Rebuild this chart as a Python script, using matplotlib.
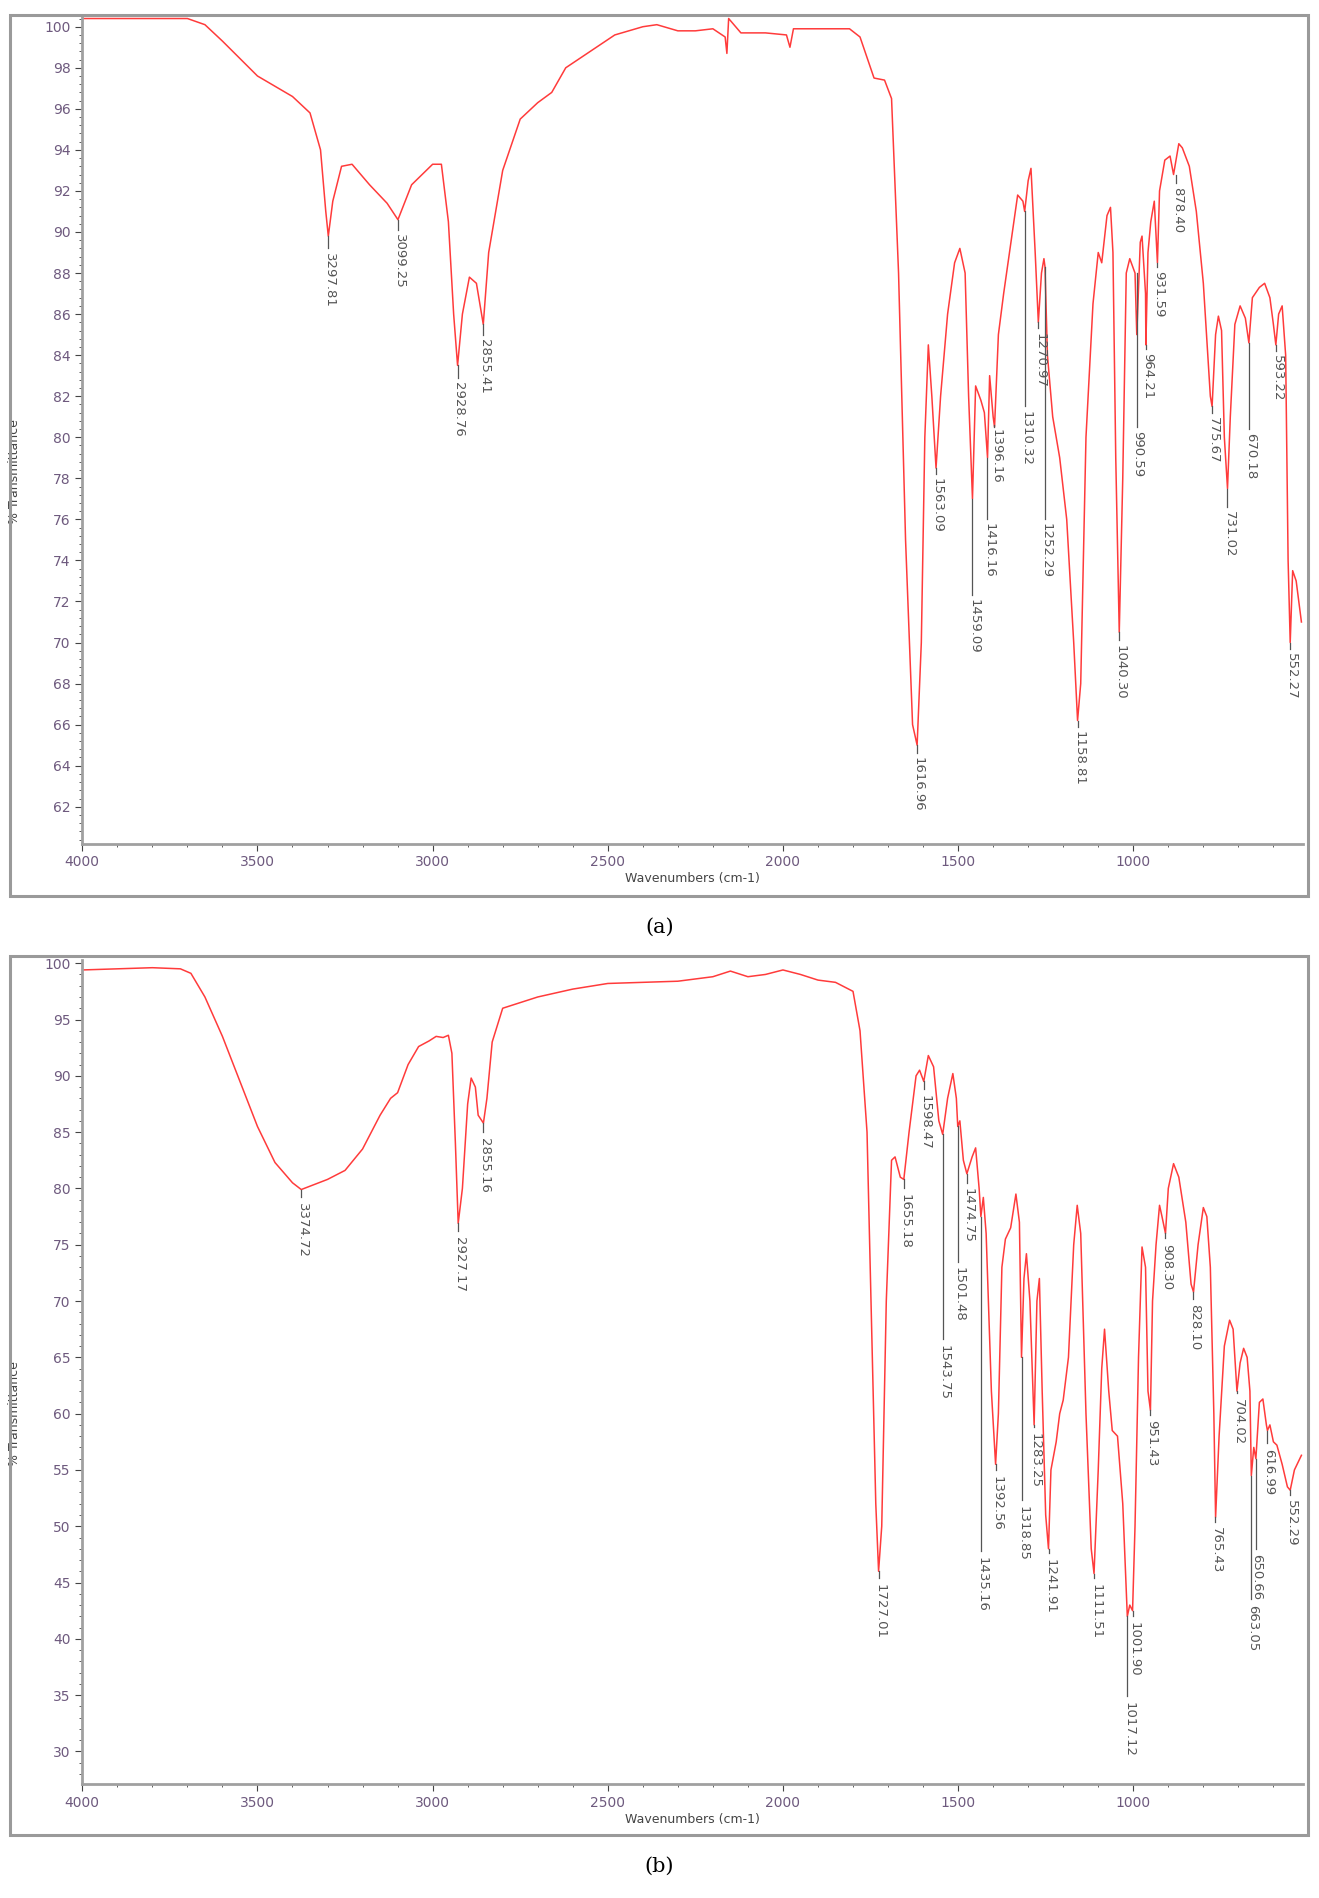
import matplotlib
matplotlib.use("Agg")
import matplotlib.pyplot as plt
from matplotlib.patches import Rectangle
from matplotlib.ticker import MultipleLocator

# ---- Spectrum (a)
wn_a = [4000,3700,3650,3600,3500,3400,3350,3320,3305,3297.8,3285,3260,3230,3180,3130,3099,3060,3000,2975,2955,2940,2928.8,2915,2895,2875,2855.4,2840,2800,2750,2700,2660,2620,2550,2480,2400,2360,2300,2250,2200,2165,2160,2155,2120,2050,1990,1980,1970,1900,1850,1810,1780,1740,1710,1690,1670,1650,1630,1617,1605,1595,1585,1575,1563,1550,1530,1510,1495,1480,1470,1459,1450,1435,1425,1416,1410,1400,1396,1385,1370,1345,1330,1315,1310,1300,1292,1280,1271,1262,1255,1252,1245,1230,1210,1190,1170,1159,1150,1135,1115,1100,1090,1075,1065,1058,1050,1040,1030,1020,1010,995,990,980,975,965,964,958,950,940,931,925,910,895,885,878,870,860,840,820,800,780,775,765,757,748,740,731,723,710,695,680,670,660,640,625,610,600,593,585,575,565,558,552,545,535,520]
tr_a = [100.4,100.4,100.1,99.3,97.6,96.6,95.8,94,91,89.8,91.5,93.2,93.3,92.3,91.4,90.6,92.3,93.3,93.3,90.5,86,83.5,86,87.8,87.5,85.5,89,93,95.5,96.3,96.8,98,98.8,99.6,100,100.1,99.8,99.8,99.9,99.5,98.7,100.4,99.7,99.7,99.6,99,99.9,99.9,99.9,99.9,99.5,97.5,97.4,96.5,88,75,66,65,70,80,84.5,82,78.5,82,86,88.5,89.2,88,82,77,82.5,81.8,81.2,79,83,81,80.5,85,87,90,91.8,91.5,91,92.5,93.1,89,85.6,88,88.7,88.3,84,81,79,76,70,66.2,68,80,86.5,89,88.5,90.8,91.2,89,79,70.5,78,88,88.7,88,85,89.5,89.8,87,84.5,89,90.5,91.5,88.5,92,93.5,93.7,92.8,93.5,94.3,94.1,93.2,91,87.5,82,81.5,85,85.9,85.2,80,77.5,81,85.5,86.4,85.8,84.6,86.8,87.3,87.5,86.8,85.5,84.5,86,86.4,84,74,70,73.5,73,71]
pk_a = [3297.81,3099.25,2928.76,2855.41,1616.96,1563.09,1459.09,1416.16,1396.16,1310.32,1270.97,1252.29,1158.81,1040.30,990.59,964.21,931.59,878.40,775.67,731.02,670.18,593.22,552.27]
pk_a_top = [89.8,90.6,83.5,85.5,65.0,78.5,77.0,79.0,80.5,91.0,85.6,88.3,66.2,70.5,88.0,84.5,88.5,92.8,81.5,77.5,84.6,84.5,70.0]
pk_a_end = [89.2,90.1,82.9,85.0,64.6,78.2,72.3,76.0,80.6,81.5,85.3,76.0,65.9,70.1,80.5,84.3,88.3,92.4,81.2,76.6,80.4,84.2,69.7]

# ---- Spectrum (b)
wn_b = [4000,3900,3800,3720,3690,3650,3600,3550,3500,3450,3400,3375,3350,3300,3250,3200,3150,3120,3100,3070,3040,3010,2990,2970,2955,2945,2935,2927,2915,2900,2890,2878,2870,2855,2845,2830,2800,2700,2600,2500,2400,2300,2200,2150,2100,2050,2000,1950,1900,1850,1800,1780,1760,1745,1735,1727,1718,1705,1690,1680,1665,1655,1640,1620,1610,1598,1585,1570,1555,1544,1530,1515,1505,1501,1495,1485,1475,1460,1450,1440,1435,1428,1420,1405,1393,1385,1375,1365,1350,1335,1325,1319,1312,1305,1295,1283,1275,1268,1260,1250,1242,1235,1220,1210,1200,1185,1170,1160,1150,1135,1120,1112,1100,1090,1082,1070,1060,1045,1030,1017,1010,1002,995,985,975,965,958,951,945,935,925,918,908,900,885,870,850,835,828,815,800,790,780,770,765,755,740,725,715,704,695,685,675,667,663,656,650,640,630,620,617,610,600,590,575,560,552,540,520]
tr_b = [99.4,99.5,99.6,99.5,99.1,97,93.5,89.5,85.5,82.3,80.5,79.9,80.2,80.8,81.6,83.5,86.5,88,88.5,91,92.6,93.1,93.5,93.4,93.6,92,84,76.9,80,87.5,89.8,89,86.5,85.8,88,93,96,97,97.7,98.2,98.3,98.4,98.8,99.3,98.8,99.0,99.4,99.0,98.5,98.3,97.5,94,85,65,52,46,50,70,82.5,82.8,81,80.8,85,90,90.5,89.5,91.8,90.8,86,84.8,88,90.2,88,85.5,86,82.5,81.3,82.8,83.6,80,77.5,79.2,76,62,55.5,60,73,75.5,76.5,79.5,77,65,72,74.2,70,59,70,72,62,51,48,55,57.5,60,61.2,65,75,78.5,76,60,48,45.8,55,64,67.5,62,58.5,58,52,42,43,42.5,50,65,74.8,73,62,60.3,70,75,78.5,77.5,76,80,82.2,81,77,71.5,70.8,75,78.3,77.5,73,60,50.8,58,66,68.3,67.5,62,64.5,65.8,65,62,54.5,57,56,61,61.3,59,58.5,59,57.5,57.2,55.5,53.5,53.2,55,56.3]
pk_b = [3374.72,2927.17,2855.16,1727.01,1655.18,1598.47,1543.75,1501.48,1474.75,1435.16,1392.56,1318.85,1283.25,1241.91,1111.51,1017.12,1001.90,951.43,908.30,828.10,765.43,704.02,663.05,650.66,616.99,552.29]
pk_b_top = [79.9,76.9,85.8,46.0,80.8,89.5,84.8,85.5,81.3,77.5,55.5,65.0,59.0,48.0,45.8,42.0,42.5,60.3,76.0,70.8,50.8,62.0,54.5,56.0,58.5,53.2]
pk_b_end = [79.2,76.2,85.0,45.4,80.0,88.8,66.6,73.5,80.5,47.8,55.0,52.3,58.8,47.6,45.4,34.9,42.0,59.9,75.6,70.2,50.4,61.8,43.5,48.0,57.4,52.8]

RED = '#ff3b3b'
TICKC = '#6e5a7e'
XLIM = (4000, 515)

fig = plt.figure(figsize=(13.19, 18.98), dpi=100)
for (x0, y0, w, h) in [(0.0073, 0.528, 0.984, 0.464), (0.0073, 0.0332, 0.984, 0.463)]:
    fig.patches.append(Rectangle((x0, y0), w, h, transform=fig.transFigure,
                                 fill=False, edgecolor='#9a9a9a', lw=2.2, zorder=0))

def panel(rect, wn, tr, pk, top, end, ylim, major, minor):
    ax = fig.add_axes(rect)
    ax.plot(wn, tr, color=RED, lw=1.1)
    for p, t, e in zip(pk, top, end):
        ax.plot([p, p], [t, e], color='#555555', lw=0.9)
        ax.text(p - 4, e - 0.1 * major, f"{p:.2f}", rotation=-90, ha='center', va='top',
                fontsize=9.5, color='#555555', clip_on=True)
    ax.set_xlim(*XLIM)
    ax.set_ylim(*ylim)
    ax.xaxis.set_major_locator(MultipleLocator(500))
    ax.xaxis.set_minor_locator(MultipleLocator(100))
    ax.yaxis.set_major_locator(MultipleLocator(major))
    ax.yaxis.set_minor_locator(MultipleLocator(minor))
    for s in ['top', 'right']:
        ax.spines[s].set_visible(False)
    for s in ['left', 'bottom']:
        ax.spines[s].set_color('#a0a0a0')
        ax.spines[s].set_linewidth(2)
    ax.tick_params(which='major', length=5, color='#444444', labelsize=10, labelcolor=TICKC)
    ax.tick_params(which='minor', length=2.5, color='#444444')
    ax.set_xlabel('Wavenumbers (cm-1)', fontsize=9, color='#444444', labelpad=2)
    ax.set_ylabel('% Transmittance', fontsize=9, color='#444444', labelpad=12)
    return ax

ax1 = panel([0.0624, 0.5555, 0.9256, 0.4355], wn_a, tr_a, pk_a, pk_a_top, pk_a_end,
            (60.2, 100.47), 2, 0.4)
ax2 = panel([0.0624, 0.060, 0.9256, 0.4343], wn_b, tr_b, pk_b, pk_b_top, pk_b_end,
            (27.1, 100.3), 5, 1)
ax1.yaxis.set_label_coords(-0.05, 0.45)
ax2.yaxis.set_label_coords(-0.05, 0.45)

fig.text(0.5, 1 - 766 / 1568, '(a)', ha='center', va='center', fontsize=15, family='DejaVu Serif')
fig.text(0.5, 1 - 1542 / 1568, '(b)', ha='center', va='center', fontsize=15, family='DejaVu Serif')

fig.savefig('out.png', dpi=100)
